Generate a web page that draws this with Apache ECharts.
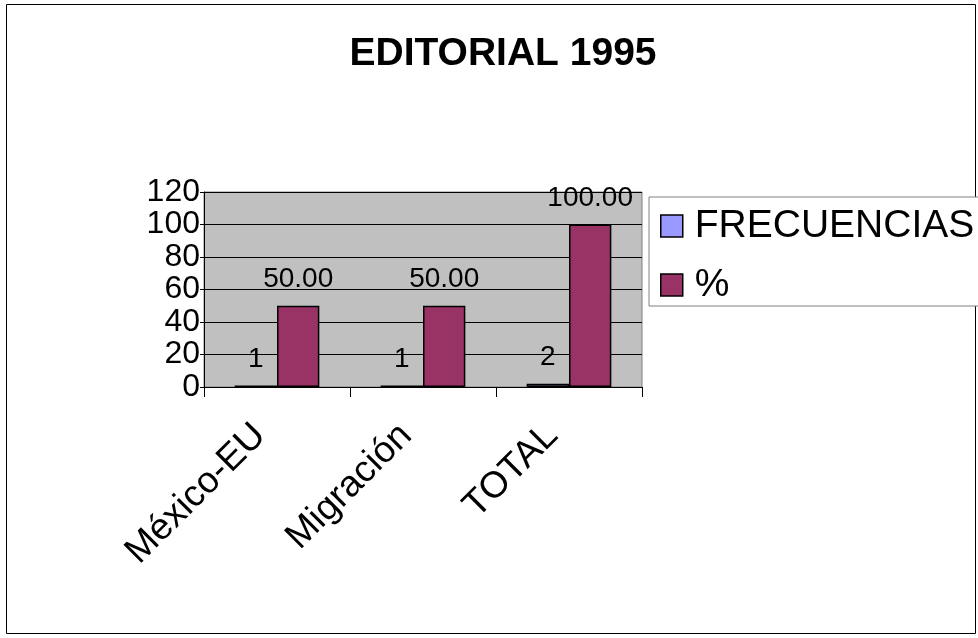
<!DOCTYPE html>
<html>
<head>
<meta charset="utf-8">
<script src="https://cdn.jsdelivr.net/npm/echarts@6/dist/echarts.min.js"></script>
<style>
	html, body { margin: 0; padding: 0; background: #fff; }
	#main { width: 978px; height: 638px; }
</style>
</head>
<body>
<div id="main"></div>
<script>
const categories = ['México-EU', 'Migración', 'TOTAL']
const frecuencias = [1, 1, 2]
const porcentaje = [50, 50, 100]
const yTicks = [0, 20, 40, 60, 80, 100, 120]

const font = 'Liberation Sans, Arial, sans-serif'

let chart = echarts.init(document.getElementById('main'))
let option = {
	backgroundColor: '#fff',
	animation: false,
	textStyle: { fontFamily: font },
	title: {
		text: 'EDITORIAL 1995',
		left: 498,
		textAlign: 'center',
		top: 30,
		textStyle: { fontSize: 39, fontWeight: 'bold', color: '#000', fontFamily: font },
	},
	legend: {
		orient: 'vertical',
		left: 649,
		top: 197,
		padding: [9, 6, 1, 11],
		itemGap: 19,
		itemWidth: 22,
		itemHeight: 22,
		icon: 'rect',
		borderColor: '#808080',
		borderWidth: 1,
		backgroundColor: '#fff',
		itemStyle: { borderColor: '#000', borderWidth: 1.5 },
		textStyle: { fontSize: 39, lineHeight: 40, color: '#000', fontFamily: font, padding: [0, 0, 0, 7] },
		data: ['FRECUENCIAS', '%'],
	},
	graphic: [
		{
			type: 'rect',
			shape: { x: 6.5, y: 4.5, width: 969, height: 629 },
			style: { fill: 'none', stroke: '#000', lineWidth: 1 },
			silent: true,
		},
	],
	grid: {
		left: 204,
		right: 336,
		top: 192,
		bottom: 251,
		show: true,
		backgroundColor: '#c0c0c0',
		borderColor: '#808080',
		borderWidth: 1,
	},
	xAxis: {
		type: 'category',
		data: categories,
		axisLine: { lineStyle: { color: '#000', width: 1 } },
		axisTick: { show: true, length: 10, lineStyle: { color: '#000' } },
		axisLabel: {
			rotate: 45,
			fontSize: 37,
			color: '#000',
			margin: 26,
			padding: [0, 24, 0, 0],
			fontFamily: font,
		},
	},
	yAxis: {
		type: 'value',
		min: 0,
		max: 120,
		interval: 20,
		axisLine: { show: true, lineStyle: { color: '#000' } },
		axisTick: { show: true, length: 4, lineStyle: { color: '#000' } },
		axisLabel: {
			fontSize: 32,
			lineHeight: 28,
			color: '#000',
			margin: 4,
			showMinLabel: true,
			showMaxLabel: true,
			hideOverlap: false,
			fontFamily: font,
			formatter: (v) => (yTicks.includes(v) ? String(v) : ''),
		},
		splitLine: { show: true, lineStyle: { color: '#000', width: 1 } },
	},
	series: [
		{
			name: 'FRECUENCIAS',
			type: 'bar',
			data: frecuencias,
			barGap: '0%',
			barCategoryGap: '42%',
			itemStyle: { color: '#9999ff', borderColor: '#000', borderWidth: 1.5 },
			label: {
				show: true,
				position: 'top',
				distance: 12,
				fontSize: 28,
				color: '#000',
				fontFamily: font,
			},
		},
		{
			name: '%',
			type: 'bar',
			data: porcentaje,
			itemStyle: { color: '#993366', borderColor: '#000', borderWidth: 1.5 },
			label: {
				show: true,
				position: 'top',
				distance: 12,
				fontSize: 28,
				color: '#000',
				fontFamily: font,
				formatter: (p) => p.value.toFixed(2),
			},
		},
	],
}
chart.setOption(option)
</script>
</body>
</html>
